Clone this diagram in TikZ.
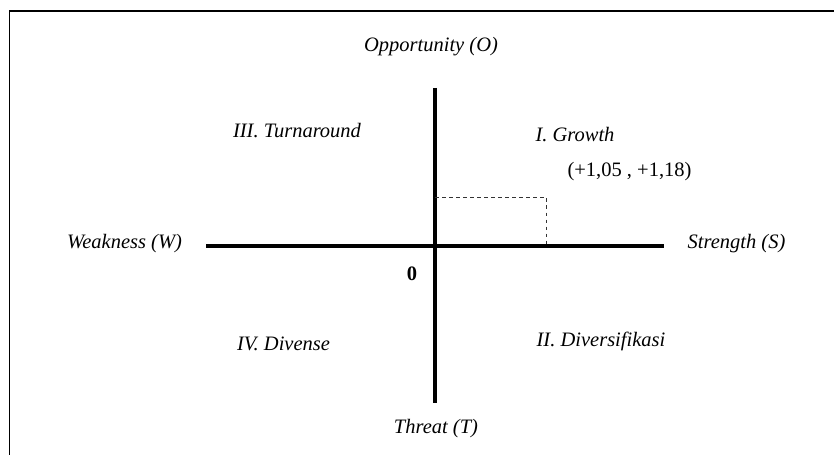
\documentclass[tikz,border=0pt]{standalone}
\usepackage{fontspec}
\setmainfont{Liberation Serif}

\begin{document}
\begin{tikzpicture}[x=0.03cm,
					y=-0.03cm,
					axis/.style={line width=4.2pt},
					guide/.style={dashed,line width=0.6pt,black!80},
					axis label/.style={font=\fontsize{17.5}{20}\selectfont\itshape,inner sep=1pt},
					quad label/.style={font=\fontsize{17.5}{20}\selectfont\itshape,inner sep=1pt}]

  \useasboundingbox (0,0) rectangle (834,455);
  % frame (open on the right and at the bottom)
  \draw[line width=1.7pt] (834,11) -- (9.5,11) -- (9.5,455);

  % axis ends
  \coordinate (O) at (435,88);
  \coordinate (T) at (435,403);
  \coordinate (W) at (206,246);
  \coordinate (S) at (664,246);
  \coordinate (P) at (546,197);

  \draw[axis] (W) -- (S);
  \draw[axis] (O) -- (T);
  \draw[guide] (P -| O) -- (P) -- (P |- S);

  \node[axis label] (opp) at (431,47) {Opportunity (O)};
  \node[axis label] (thr) at (436,429) {Threat (T)};
  \node[axis label] (weak) at (124.5,244) {Weakness (W)};
  \node[axis label] (str) at (736.5,244) {Strength (S)};
  \node[font=\fontsize{17.5}{20}\selectfont\bfseries] (zero) at (412,274) {0};

  \node[quad label] (q3) at (297,131) {III. Turnaround};
  \node[quad label] (q1) at (575,135) {I. Growth};
  \node[quad label] (q4) at (283.5,344) {IV. Divense};
  \node[quad label] (q2) at (601,341) {II. Diversifikasi};
  \node[font=\fontsize{17.5}{20}\selectfont] (pt) at (629.5,172) {(+1,05 , +1,18)};
\end{tikzpicture}
\end{document}
